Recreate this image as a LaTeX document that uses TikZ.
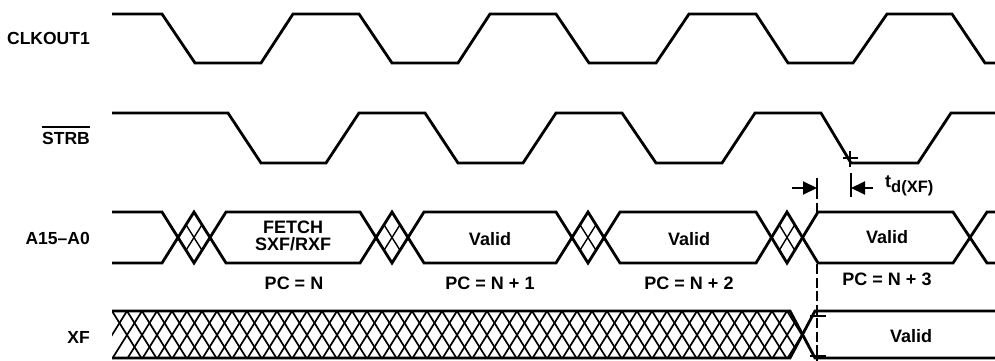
\documentclass[tikz,border=0pt]{standalone}
\usepackage{fontspec}
\setmainfont{Liberation Sans}
\usetikzlibrary{arrows.meta}
\begin{document}
\begin{tikzpicture}[x=1pt,y=-1pt,
  wave/.style={line width=2.8pt, line join=miter},
  hatch/.style={line width=1.7pt},
  fine/.style={line width=1.4pt},
  lbl/.style={font=\fontsize{18}{21}\selectfont\bfseries, inner sep=0pt},
  sig/.style={font=\fontsize{17.5}{21}\selectfont\bfseries, inner sep=0pt, anchor=east},
  dimline/.style={line width=2pt},
  tipped/.style={dimline, -{Triangle[length=14pt,width=13pt]}},
  dashline/.style={line width=1.5pt, dash pattern=on 10pt off 3.5pt}
]
\useasboundingbox (0,0) rectangle (995,361);

% signal names
\node[sig] (nclk) at (90,38) {CLKOUT1};
\node[sig] (nstrb) at (90,138) {STRB};
\draw[line width=1.4pt] ([yshift=4.5pt]nstrb.north west) -- ([yshift=4.5pt]nstrb.north east);
\node[sig] (naddr) at (90,238) {A15--A0};
\node[sig] (nxf) at (90,337) {XF};

% CLKOUT1
\draw[wave] (112,14) -- (162,14) -- (195,63) -- (261,63) -- (293,14) -- (359,14) -- (392,63) -- (458,63) -- (490,14) -- (556,14) -- (589,63) -- (656,63) -- (689,14) -- (756,14) -- (788,63) -- (853,63) -- (887,14) -- (952,14) -- (985,63) -- (995,63);

% STRB
\draw[wave] (112,113) -- (228,113) -- (261,163) -- (326,163) -- (359,113) -- (425,113) -- (458,163) -- (523,163) -- (556,113) -- (622,113) -- (656,163) -- (722,163) -- (755,113) -- (821,113) -- (851,163) -- (918,163) -- (951,113) -- (995,113);

% A15-A0
\draw[wave] (112,212) -- (162,212) -- (194,263) -- (226,212) -- (360,212) -- (392,263) -- (424,212) -- (556,212) -- (588,263) -- (620,212) -- (756,212) -- (787,263) -- (818,212) -- (953,212) -- (987,263) -- (995,263);
\draw[wave] (112,263) -- (162,263) -- (194,212) -- (226,263) -- (360,263) -- (392,212) -- (424,263) -- (556,263) -- (588,212) -- (620,263) -- (756,263) -- (787,212) -- (818,263) -- (953,263) -- (987,212) -- (995,212);
\foreach \xo/\d in {162/32, 360/32, 556/32, 756/31} {
  \draw[fine] (\xo+0.75*\d, 224.75) -- (\xo+1.25*\d, 250.25);
  \draw[fine] (\xo+1.25*\d, 224.75) -- (\xo+0.75*\d, 250.25);
}

% A15 texts
\node[lbl] (fetch) at (293,227) {FETCH};
\node[lbl] (sxf) at (293,244) {SXF/RXF};
\node[lbl] (v1) at (490,239) {Valid};
\node[lbl] (v2) at (689,239) {Valid};
\node[lbl] (v3) at (887,237) {Valid};
\node[lbl] (pc0) at (294,283) {PC = N};
\node[lbl] (pc1) at (490,283) {PC = N + 1};
\node[lbl] (pc2) at (689,283) {PC = N + 2};
\node[lbl] (pc3) at (887,279) {PC = N + 3};

% XF
\begin{scope}
  \clip (112,311) -- (790,311) -- (802.5,334.5) -- (790,358) -- (112,358) -- cycle;
  \foreach \k in {0,...,48} {
    \draw[hatch] (112+15*\k,311) -- ++(30,48);
    \draw[hatch] (112+15*\k,311) -- ++(-30,48);
  }
\end{scope}
\draw[wave] (112,311) -- (790,311) -- (815,358) -- (995,358);
\draw[wave] (112,358) -- (790,358) -- (815,311) -- (995,311);
\node[lbl] (vxf) at (911,336) {Valid};

% timing reference
\coordinate (aref) at (817,188);
\coordinate (sref) at (851,188);
\coordinate (afrom) at (792,188);
\coordinate (sfrom) at (873,188);
\draw[dimline] (817,178) -- (817,199);
\draw[dimline] (817,203) -- (817,212);
\draw[dashline] (817,264) -- (817,361);
\draw[tipped] (afrom) -- (aref);
\draw[dimline] (851,173) -- (851,197);
\draw[tipped] (sfrom) -- (sref);
\draw[line width=1.5pt] (843,158) -- (858,158);
\draw[line width=1.5pt] (850,151) -- (850,167);
\draw[line width=1.5pt] (810,316) -- (826,316);
\draw[line width=1.5pt] (810,356) -- (826,356);
\node[lbl, anchor=west] (tdxf) at (885,186) {t\raisebox{-5pt}{\fontsize{16.5}{18}\selectfont d(XF)}};
\end{tikzpicture}
\end{document}
